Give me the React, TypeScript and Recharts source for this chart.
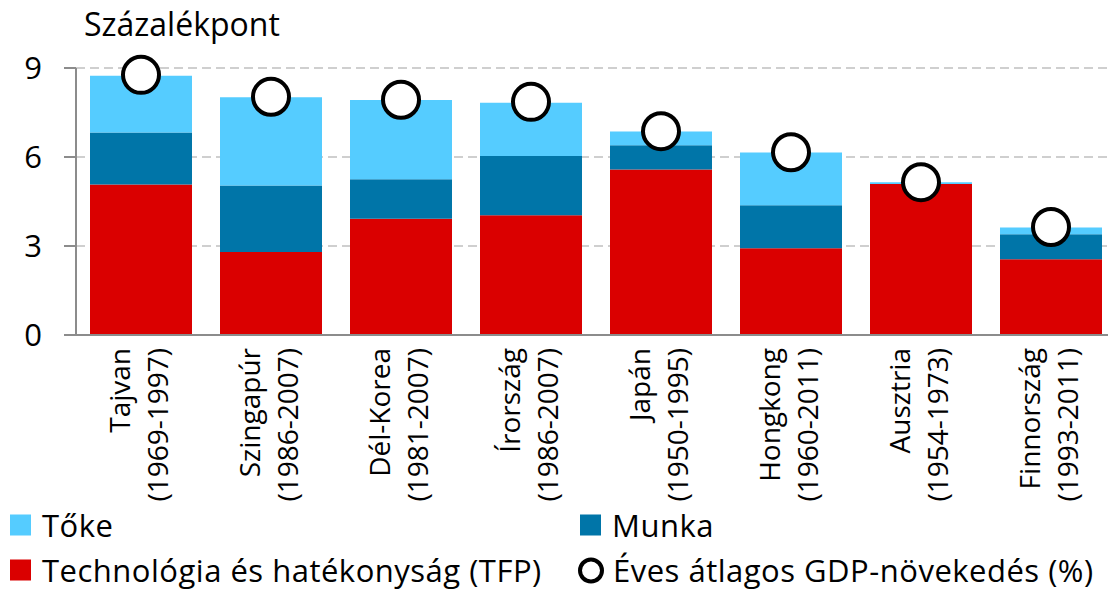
import { ComposedChart, Bar, Line, XAxis, YAxis, CartesianGrid } from 'recharts';

const countries = ['Tajvan', 'Szingapúr', 'Dél-Korea', 'Írország', 'Japán', 'Hongkong', 'Ausztria', 'Finnország'];
const periods = ['(1969-1997)', '(1986-2007)', '(1981-2007)', '(1986-2007)', '(1950-1995)', '(1960-2011)', '(1954-1973)', '(1993-2011)'];
const tfp = [5.07, 2.8, 3.92, 4.04, 5.58, 2.92, 5.09, 2.55];
const munka = [1.76, 2.24, 1.33, 1.99, 0.82, 1.45, 0, 0.85];
const toke = [1.91, 2.97, 2.67, 1.8, 0.46, 1.78, 0.06, 0.22];
const gdp = [8.77, 8.03, 7.93, 7.86, 6.87, 6.16, 5.15, 3.64];
const yTicks = [0, 3, 6, 9];

const FONT = '"Open Sans", sans-serif';
const C_TOKE = '#55CCFF';
const C_MUNKA = '#0075A8';
const C_TFP = '#DA0000';
const AXIS = '#8C8C8C';

const data = countries.map((name, i) => ({
  name,
  period: periods[i],
  tfp: tfp[i],
  munka: munka[i],
  toke: toke[i],
  gdp: gdp[i],
}));

function CountryTick(props: any) {
  const { x, y, index } = props;
  return (
    <g transform={`translate(${x},${y})`}>
      <text transform="rotate(-90)" textAnchor="end" fontSize={28} fill="#000" fontFamily={FONT}>
        <tspan x={-13} y={-11}>{countries[index]}</tspan>
        <tspan x={-13} y={27}>{periods[index]}</tspan>
      </text>
    </g>
  );
}

function LegendItem({ left, top, color, label }: { left: number; top: number; color: string; label: string }) {
  const marker =
    color === 'circle' ? (
      <span style={{ display: 'inline-block', width: 18, height: 18, borderRadius: '50%', border: '4px solid #000', marginRight: 9 }} />
    ) : (
      <span style={{ display: 'inline-block', width: 21, height: 21, background: color, marginRight: 11 }} />
    );
  return (
    <div style={{ position: 'absolute', left, top, transform: 'translateY(-50%)', display: 'flex', alignItems: 'center', whiteSpace: 'nowrap', lineHeight: 1 }}>
      {marker}
      <span>{label}</span>
    </div>
  );
}

export default function App() {
  return (
    <div style={{ position: 'absolute', left: 0, top: 0, width: 1108, height: 590, overflow: 'hidden', background: '#fff', fontFamily: FONT }}>
      <ComposedChart width={1124} height={590} data={data} margin={{ top: 68, right: 8, bottom: 0, left: 0 }}>
        <CartesianGrid vertical={false} stroke="#C0C0C0" strokeDasharray="9 5" strokeWidth={1.5} />
        <XAxis
          dataKey="name"
          height={255}
          interval={0}
          tickLine={false}
          tickSize={0}
          tickMargin={0}
          stroke={AXIS}
          strokeWidth={2}
          tick={<CountryTick />}
        />
        <YAxis
          width={76}
          domain={[0, 9]}
          ticks={yTicks}
          interval={0}
          tickSize={12}
          tickMargin={22}
          stroke={AXIS}
          strokeWidth={2}
          tick={{ fontSize: 31, fill: '#000', fontFamily: FONT }}
        />
        <Bar dataKey="tfp" stackId="a" fill={C_TFP} barSize={102} isAnimationActive={false} />
        <Bar dataKey="munka" stackId="a" fill={C_MUNKA} barSize={102} isAnimationActive={false} />
        <Bar dataKey="toke" stackId="a" fill={C_TOKE} barSize={102} isAnimationActive={false} />
        <Line
          dataKey="gdp"
          stroke="none"
          dot={{ r: 18, fill: '#fff', stroke: '#000', strokeWidth: 4 }}
          activeDot={false}
          isAnimationActive={false}
        />
      </ComposedChart>

      <div style={{ position: 'absolute', left: 84, top: 2, fontSize: 32, color: '#000' }}>Százalékpont</div>

      <div style={{ position: 'absolute', left: 0, top: 0, fontSize: 31, letterSpacing: 0.5, color: '#000' }}>
        <LegendItem left={10} top={525} color={C_TOKE} label="Tőke" />
        <LegendItem left={580} top={525} color={C_MUNKA} label="Munka" />
        <LegendItem left={10} top={570} color={C_TFP} label="Technológia és hatékonyság (TFP)" />
        <LegendItem left={578} top={570} color="circle" label="Éves átlagos GDP-növekedés (%)" />
      </div>
    </div>
  );
}
